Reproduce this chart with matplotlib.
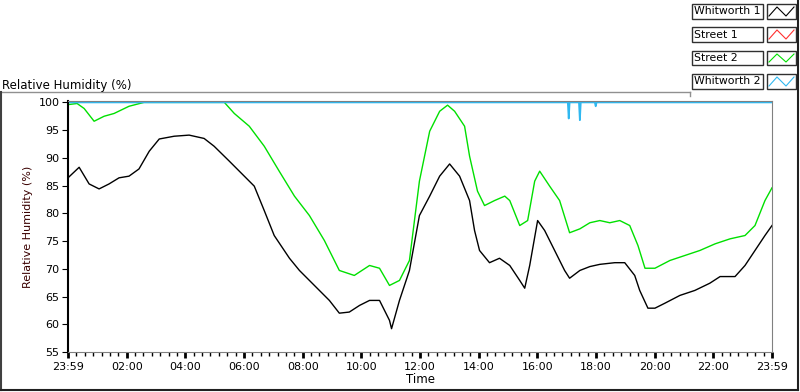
import matplotlib.pyplot as plt
import numpy as np
from matplotlib.lines import Line2D
from matplotlib.patches import Rectangle
from matplotlib.ticker import MultipleLocator

# time in hours after 23:59 (start of record)
t_white1 = [0, 0.38, 0.72, 1.06, 1.40, 1.74, 2.08, 2.42, 2.77, 3.11, 3.62, 4.13, 4.64,
            4.98, 5.50, 6.01, 6.35, 6.69, 7.03, 7.55, 7.89, 8.40, 8.91, 9.25, 9.59, 9.94,
            10.28, 10.62, 10.96, 11.03, 11.30, 11.64, 11.98, 12.33, 12.67, 13.01, 13.35,
            13.69, 13.86, 14.03, 14.37, 14.71, 15.06, 15.40, 15.57, 15.74, 16.01, 16.25,
            16.59, 16.93, 17.10, 17.45, 17.79, 18.13, 18.64, 18.98, 19.32, 19.49, 19.77,
            20.01, 20.35, 20.86, 21.37, 21.88, 22.23, 22.74, 23.08, 23.42, 23.76, 24.0]
rh_white1 = [86.4, 88.3, 85.3, 84.4, 85.3, 86.4, 86.7, 88.0, 91.2, 93.4, 93.9, 94.1, 93.5,
             92.1, 89.4, 86.7, 84.9, 80.5, 76.0, 71.9, 69.7, 67.0, 64.3, 62.0, 62.2, 63.4,
             64.3, 64.3, 60.7, 59.2, 64.3, 69.7, 79.6, 83.1, 86.7, 88.9, 86.7,
             82.3, 76.9, 73.3, 71.1, 71.9, 70.6, 67.9, 66.5, 70.6, 78.7, 76.9,
             73.3, 69.7, 68.3, 69.7, 70.4, 70.8, 71.1, 71.1, 68.8, 66.1, 62.9,
             62.9, 63.8, 65.2, 66.1, 67.4, 68.6, 68.6, 70.6, 73.3, 76.0, 77.8]

t_street2 = [0, 0.31, 0.55, 0.89, 1.23, 1.57, 2.08, 2.59, 5.33, 5.67, 6.18, 6.69, 7.20,
             7.72, 8.23, 8.74, 9.25, 9.76, 10.28, 10.62, 10.96, 11.30, 11.64, 11.98, 12.33,
             12.67, 12.94, 13.18, 13.52, 13.69, 13.96, 14.20, 14.54, 14.89, 15.06, 15.40,
             15.67, 15.91, 16.08, 16.42, 16.76, 17.10, 17.45, 17.79, 18.13, 18.47, 18.81,
             19.15, 19.43, 19.67, 20.01, 20.52, 21.03, 21.54, 22.06, 22.57, 23.08, 23.42,
             23.76, 24.0]
rh_street2 = [99.6, 99.8, 98.9, 96.6, 97.5, 98.0, 99.3, 100, 100, 98.0, 95.7, 92.1, 87.6,
              83.1, 79.6, 75.1, 69.7, 68.8, 70.6, 70.1, 67.0, 67.9, 71.5, 85.8, 94.8,
              98.4, 99.5, 98.4, 95.7, 90.3, 84.0, 81.4, 82.3, 83.1, 82.3, 77.8,
              78.7, 85.8, 87.6, 84.9, 82.3, 76.5, 77.2, 78.3, 78.7, 78.3, 78.7,
              77.8, 74.2, 70.1, 70.1, 71.5, 72.4, 73.3, 74.5, 75.4, 76.0, 77.8,
              82.3, 84.6]

t_white2 = [0, 17.04, 17.07, 17.10, 17.42, 17.45, 17.48, 17.96, 17.99, 18.02, 24.0]
rh_white2 = [100, 100, 97.1, 100, 100, 96.8, 100, 100, 99.3, 100, 100]

t_street1 = []
rh_street1 = []

names = ['Whitworth 1', 'Street 1', 'Street 2', 'Whitworth 2']
colors = ['black', '#ff3030', '#00e000', '#30b8f0']

tick_pos = [0, 2, 4, 6, 8, 10, 12, 14, 16, 18, 20, 22, 24]
tick_lab = ['23:59', '02:00', '04:00', '06:00', '08:00', '10:00', '12:00',
            '14:00', '16:00', '18:00', '20:00', '22:00', '23:59']

W, H = 800, 392
fig = plt.figure(figsize=(8, 3.92), dpi=100)
plt.rcParams['font.family'] = ['DejaVu Sans']

ax = fig.add_axes([68 / W, 1 - 352 / H, (772 - 68) / W, (352 - 101) / H])
ax.plot(t_white1, rh_white1, color=colors[0], lw=1)
ax.plot(t_street1, rh_street1, color=colors[1], lw=1)
ax.plot(t_street2, rh_street2, color=colors[2], lw=1)
ax.plot(t_white2, rh_white2, color=colors[3], lw=1.3)

ax.set_xlim(0, 24)
ax.set_ylim(55, 100.25)
ax.set_yticks(range(55, 101, 5))
ax.set_xticks(tick_pos)
ax.set_xticklabels(tick_lab)
ax.xaxis.set_minor_locator(MultipleLocator(2 / 7))
ax.tick_params(axis='both', labelsize=8, direction='out', length=4, color='black')
ax.tick_params(axis='x', which='major', width=2, length=4)
ax.tick_params(axis='x', which='minor', width=1, length=3)
ax.tick_params(axis='y', pad=2)
ax.tick_params(axis='x', pad=3)
for s in ['top', 'right', 'bottom']:
    ax.spines[s].set_color('#808080')
ax.spines['left'].set_color('black')
ax.spines['left'].set_linewidth(1.5)
ax.set_ylabel('Relative Humidity (%)', fontsize=8, color='#3a0000', labelpad=4)
ax.set_xlabel('Time', fontsize=8.5, labelpad=1)

# panel caption
fig.text(2 / W, 1 - 89 / H, 'Relative Humidity (%)', fontsize=8.5, ha='left', va='baseline')

# frame lines around the panel
def fline(x0, y0, x1, y1, c, lw=1):
    fig.add_artist(Line2D([x0 / W, x1 / W], [1 - y0 / H, 1 - y1 / H], color=c, lw=lw))

fline(0, 92, 690, 92, '#909090')
fline(690, 92, 690, 96, '#909090')
fline(0.5, 92, 0.5, 390, '#404040', 1.5)
fline(0, 390, 798, 390, '#202020', 1.5)
fline(797.5, 0, 797.5, 390, '#202020', 1.5)

# legend boxes
rows = [(4, 19), (27, 42), (51, 65), (74, 89)]
for (top, bot), name, c in zip(rows, names, colors):
    fig.add_artist(Rectangle((692 / W, 1 - bot / H), (763 - 692) / W, (bot - top) / H,
                             fill=False, edgecolor='#303030', lw=1))
    fig.text(694 / W, 1 - (top + bot) / 2 / H, name, fontsize=7.8, ha='left', va='center')
    fig.add_artist(Rectangle((767 / W, 1 - bot / H), (796 - 767) / W, (bot - top) / H,
                             fill=False, edgecolor='#303030', lw=1))
    zx = np.array([769, 777, 786, 794])
    zy = np.array([bot - 3, top + 3, bot - 3, top + 3])
    fig.add_artist(Line2D(zx / W, 1 - zy / H, color=c, lw=0.8))

fig.savefig('out.png', dpi=100)
